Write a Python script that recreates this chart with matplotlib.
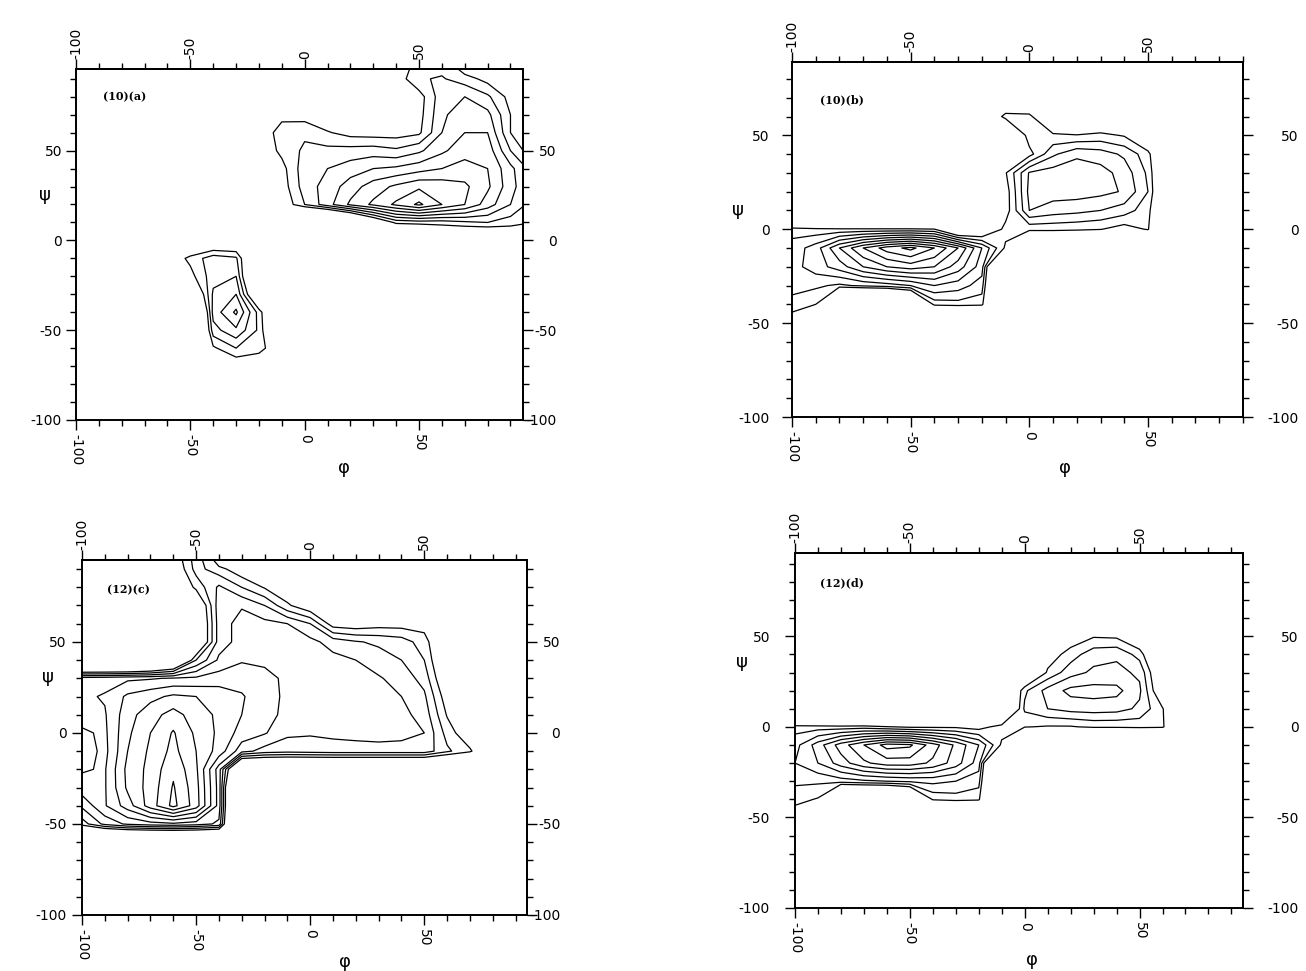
import numpy as np
import matplotlib
matplotlib.use("Agg")
import matplotlib.pyplot as plt
from matplotlib.ticker import MultipleLocator

plt.rcParams['axes.unicode_minus'] = False
plt.rcParams['font.family'] = ['DejaVu Sans']

# grid of the (phi, psi) population maps, 10 degree spacing
phi_grid = list(range(-100, 101, 10))          # columns
psi_grid = list(range(100, -101, -10))         # rows, top to bottom

tick_values = [-100, -50, 0, 50]
tick_labels = ['-100', '-50', '0', '50']
panel_labels = ['(10)(a)', '(10)(b)', '(12)(c)', '(12)(d)']

Z0 = [0] * 21

dens_a = [
    [0,0,0,0,0,0,0,0,0,0,0,0,0,0,-0.5,1.6,1.5,-0.5,0,0,0],
    [0,0,0,0,0,0,0,0,0,0,0,0,0,0,0.3,1.9,2.1,1.5,0.6,0,0],
    [0,0,0,0,0,0,0,0,0,0,0,0,0,0,0,0.5,2.6,3.0,2.2,0.6,0],
    [0,0,0,0,0,0,0,0,0,0.6,0.5,0,0,0,0,0.6,2.8,3.6,3.3,1.0,0],
    [0,0,0,0,0,0,0,0,0,1.6,1.8,1.1,0.6,0.5,0.5,0.8,3.0,4.0,4.0,1.0,-0.5],
    [0,0,0,0,0,0,0,0,0,1.3,2.2,2.3,2.4,2.5,2.2,2.8,3.8,4.6,4.6,2.0,0.2],
    [0,0,0,0,0,0,0,0,0,0.6,2.6,3.0,3.5,4.0,4.2,4.6,5.0,5.4,5.0,3.3,1.5],
    [0,0,0,0,0,0,0,0,0,0.4,2.5,3.4,4.5,5.5,6.2,6.8,6.6,6.2,5.2,3.4,1.8],
    [0,0,0,0,0,0,0,0,0,0,2.0,3.6,5.2,6.2,7.2,8.2,7.0,6.0,4.5,3.0,1.5],
    [0,0,0,0,0,0,0,0,0,-3,-6,-6,-4,-1,1.3,1.5,1.5,1.8,2.0,1.5,1.0],
    [0,0,0,0,0,-1,-1,-1,0,0,0,0,0,0,-4,-4,-2,-2,-2,-1,-1],
    [0,0,0,0,0,1.3,2.6,2.2,-3,0,0,0,0,0,0,0,0,0,0,0,0],
    [0,0,0,0,0,0.6,2.6,3.0,-4,0,0,0,0,0,0,0,0,0,0,0,0],
    [0,0,0,0,0,-2,3.2,4.0,-2,0,0,0,0,0,0,0,0,0,0,0,0],
    [0,0,0,0,0,-6,3.4,5.2,1.6,-3,0,0,0,0,0,0,0,0,0,0,0],
    [0,0,0,0,0,-6,2.6,3.8,1.8,-3,0,0,0,0,0,0,0,0,0,0,0],
    [0,0,0,0,0,-1,0.8,2.0,1.4,0,0,0,0,0,0,0,0,0,0,0,0],
    Z0, Z0, Z0, Z0,
]

dens_b = [
    Z0, Z0, Z0,
    [0,0,0,0,0,0,0,0,0,-1,-1,-1,0,0,0,0,0,0,0,0,0],
    [0,0,0,0,0,0,0,0,-1,1.4,1.3,-1,-1,-1,-1,0,0,0,0,0,0],
    [0,0,0,0,0,0,0,0,0,-2,1.6,1.2,1.05,1.3,0.9,-1,0,0,0,0,0],
    [0,0,0,0,0,0,0,0,0,-2,0.6,2.8,3.8,3.5,2.8,1.4,-3,0,0,0,0],
    [0,0,0,0,0,0,0,0,0,0.9,4.1,4.5,4.6,4.4,3.6,1.8,-3,0,0,0,0],
    [0,0,0,0,0,0,0,0,0,0.4,4.3,4.5,4.5,4.3,3.9,2.0,-3,0,0,0,0],
    [-8,-8,-8,-8,-8,-8,-8,-4,-2,0.4,4.0,3.5,3.3,3.0,2.5,1.4,-3,0,0,0,0],
    [1.6,1.3,1.2,1.2,1.2,1.2,1.05,-2,-1,1.4,1.3,1.3,1.2,1.05,0.5,1.1,-3,0,0,0,0],
    [2.4,3.5,6.0,8.0,9.5,10.3,9.0,7.0,4.0,0.8,-3,-3,-3,-3,-3,-3,-3,0,0,0,0],
    [2.6,3.5,4.5,6.0,7.0,7.5,7.0,5.5,3.5,-8,0,0,0,0,0,0,0,0,0,0,0],
    [2.5,2.2,1.8,2.2,2.5,3.0,4.0,3.5,2.5,-8,0,0,0,0,0,0,0,0,0,0,0],
    [1.5,1.0,-8,-8,-8,-5,1.4,1.6,1.4,-8,0,0,0,0,0,0,0,0,0,0,0],
    [0.3,-1,-8,-8,-8,-8,-8,-8,-8,-8,0,0,0,0,0,0,0,0,0,0,0],
    Z0, Z0, Z0, Z0, Z0,
]

dens_c = [
    [0,0,0,0,0.3,2.6,-1.3,-1,0,0,0,0,0,0,0,0,0,0,0,0,0],
    [0,0,0,0,-0.3,2.4,1.4,0.2,0,0,0,0,0,0,0,0,0,0,0,0,0],
    [0,0,0,0,-1,1.3,3.2,2.0,0.9,0,0,0,0,0,0,0,0,0,0,0,0],
    [0,0,0,0,-1,-1,3.6,3.9,3.0,1.2,0,0,0,0,0,0,0,0,0,0,0],
    [0,0,0,0,0,-1.5,3.5,4.4,4.3,4.0,3.0,0.4,0.2,0.5,0.5,0.5,-1,0,0,0,0],
    [0,0,0,0,-2,-1.5,3.5,4.4,4.6,4.6,4.3,3.6,3.1,2.8,2.5,1.5,-1,0,0,0,0],
    [-6,-6,-6,-5,-3,2.0,4.2,4.9,4.8,4.6,4.5,4.3,4.0,3.5,3.0,2.0,-1,0,0,0,0],
    [4.5,4.6,4.8,4.9,5.1,5.2,5.5,5.6,5.3,4.8,4.6,4.5,4.4,4.1,3.6,2.6,-0.5,0,0,0,0],
    [4.8,5.1,6.2,6.7,7.2,7.0,6.6,6.1,5.4,4.8,4.6,4.5,4.5,4.3,4.0,3.2,0.3,0,0,0,0],
    [4.5,4.9,6.6,7.6,8.4,7.5,6.8,6.0,5.4,4.7,4.5,4.5,4.5,4.4,4.3,3.6,0.9,-1,0,0,0],
    [5.2,4.8,6.8,8.0,9.1,7.8,6.8,5.6,5.1,4.2,4.1,4.2,4.3,4.4,4.3,4.0,1.6,0,0,0,0],
    [5.6,4.7,7.0,8.2,9.3,8.0,6.6,4.4,3.6,3.4,3.5,3.6,3.6,3.6,3.6,3.6,2.2,1.2,-1,0,0],
    [5.1,4.9,7.3,8.3,9.8,8.2,4.5,-4,-4,-4,-4,-4,-4,-4,-4,-4,-4,-4,-4,0,0],
    [4.6,4.9,7.2,8.4,10.1,8.4,4.6,-8,0,0,0,0,0,0,0,0,0,0,0,0,0],
    [3.2,4.9,6.5,8.5,10.3,8.5,4.6,-8,0,0,0,0,0,0,0,0,0,0,0,0,0],
    [1.5,3.3,4.2,4.6,4.8,4.5,3.8,-8,0,0,0,0,0,0,0,0,0,0,0,0,0],
    [-6,-6,-6,-6,-6,-6,-6,-4,0,0,0,0,0,0,0,0,0,0,0,0,0],
    Z0, Z0, Z0, Z0,
]

dens_d = [
    Z0, Z0, Z0, Z0,
    [0,0,0,0,0,0,0,0,0,0,0,0,0,-1,-1,-1,0,0,0,0,0],
    [0,0,0,0,0,0,0,0,0,0,0,-1,0.2,0.9,0.8,-0.5,-1,0,0,0,0],
    [0,0,0,0,0,0,0,0,0,0,-2,0.3,1.5,2.6,2.8,1.6,-2,0,0,0,0],
    [0,0,0,0,0,0,0,0,0,0,-2,1.2,2.6,3.2,3.3,2.8,-1,0,0,0,0],
    [0,0,0,0,0,0,0,0,0,-3,1.8,3.4,4.3,4.4,4.3,3.2,-0.5,-2,0,0,0],
    [-8,-8,-8,-8,-8,-8,-8,-5,-2,-3,2.2,3.0,3.4,3.5,3.4,2.8,1.1,-2,0,0,0],
    [1.6,1.5,1.4,1.5,1.1,0.8,0.8,0.8,0.5,1.5,1.05,0.9,0.9,1.2,1.2,1.3,1.2,-2,0,0,0],
    [2.6,4.5,6.5,8.0,9.4,9.2,7.5,5.8,4.0,0.8,-3,-6,-6,-6,-6,-6,-6,0,0,0,0],
    [3.0,4.0,5.5,6.8,7.5,7.5,6.8,5.5,3.5,-8,0,0,0,0,0,0,0,0,0,0,0],
    [2.2,2.2,2.5,2.8,3.0,3.2,3.3,3.0,2.4,-8,0,0,0,0,0,0,0,0,0,0,0],
    [1.4,0.9,-6,-6,-6,-4,1.2,1.5,1.3,-8,0,0,0,0,0,0,0,0,0,0,0],
    [0.2,-2,-6,-6,-6,-6,-6,-6,-6,-6,0,0,0,0,0,0,0,0,0,0,0],
    Z0, Z0, Z0, Z0, Z0,
]

densities = [dens_a, dens_b, dens_c, dens_d]
levels = [list(range(1, 9)), list(range(1, 11)), list(range(1, 11)), list(range(1, 10))]

# layout (figure fractions) and axis extents per panel
rects = [
    [0.0582, 0.5675, 0.3423, 0.3615],
    [0.6064, 0.5705, 0.3453, 0.3656],
    [0.0628, 0.0577, 0.3407, 0.3656],
    [0.6087, 0.0649, 0.3430, 0.3656],
]
upper = [(95.5, 95.5), (90, 89), (95, 95), (95, 96)]
left_pad = [3, 9, 4, 11]
right_pad = [24, 40, 24, 40]      # right labels are right-aligned
psi_lab = [(-0.069, 0.64), (-0.12, 0.583), (-0.076, 0.67), (-0.118, 0.693)]
phi_lab = [(0.60, -0.137), (0.605, -0.144), (0.591, -0.132), (0.529, -0.146)]
tag_pos = [(0.06, 0.92), (0.062, 0.893), (0.056, 0.915), (0.056, 0.915)]

fig = plt.figure(figsize=(13.06, 9.71), dpi=100)

for i in range(4):
    ax = fig.add_axes(rects[i])
    Z = np.flipud(np.array(densities[i], dtype=float))
    ax.contour(phi_grid, psi_grid[::-1], Z, levels=levels[i],
               colors='black', linewidths=0.9)
    ax.set_xlim(-100, upper[i][0])
    ax.set_ylim(-100, upper[i][1])

    for s in ax.spines.values():
        s.set_linewidth(1.4)

    ax.set_xticks(tick_values, tick_labels)
    ax.set_yticks(tick_values, tick_labels)
    ax.xaxis.set_minor_locator(MultipleLocator(10))
    ax.yaxis.set_minor_locator(MultipleLocator(10))
    ax.tick_params(which='both', direction='out', top=True, right=True,
                   labeltop=False, labelright=False, width=1.0, labelsize=10)
    ax.tick_params(which='major', length=7)
    ax.tick_params(which='minor', length=4)
    ax.tick_params(axis='x', which='major', labelrotation=270, pad=3)
    ax.tick_params(axis='y', which='major', pad=left_pad[i])

    # top and right labels
    secx = ax.secondary_xaxis('top')
    secx.set_xticks(tick_values, tick_labels)
    secx.tick_params(length=0, pad=7, labelrotation=90, labelsize=10)
    secx.spines['top'].set_linewidth(1.4)
    secy = ax.secondary_yaxis('right')
    secy.set_yticks(tick_values, tick_labels)
    secy.tick_params(length=0, pad=right_pad[i], labelsize=10)
    secy.spines['right'].set_linewidth(1.4)
    for lab in secy.get_yticklabels():
        lab.set_horizontalalignment('right')

    ax.text(psi_lab[i][0], psi_lab[i][1], 'ψ', transform=ax.transAxes,
            fontsize=13, ha='center', va='center')
    ax.text(phi_lab[i][0], phi_lab[i][1], 'φ', transform=ax.transAxes,
            fontsize=13, ha='center', va='center')
    ax.text(tag_pos[i][0], tag_pos[i][1], panel_labels[i], transform=ax.transAxes,
            fontsize=8, fontweight='bold', family='DejaVu Serif',
            ha='left', va='center')

fig.savefig('out.png', dpi=100)
